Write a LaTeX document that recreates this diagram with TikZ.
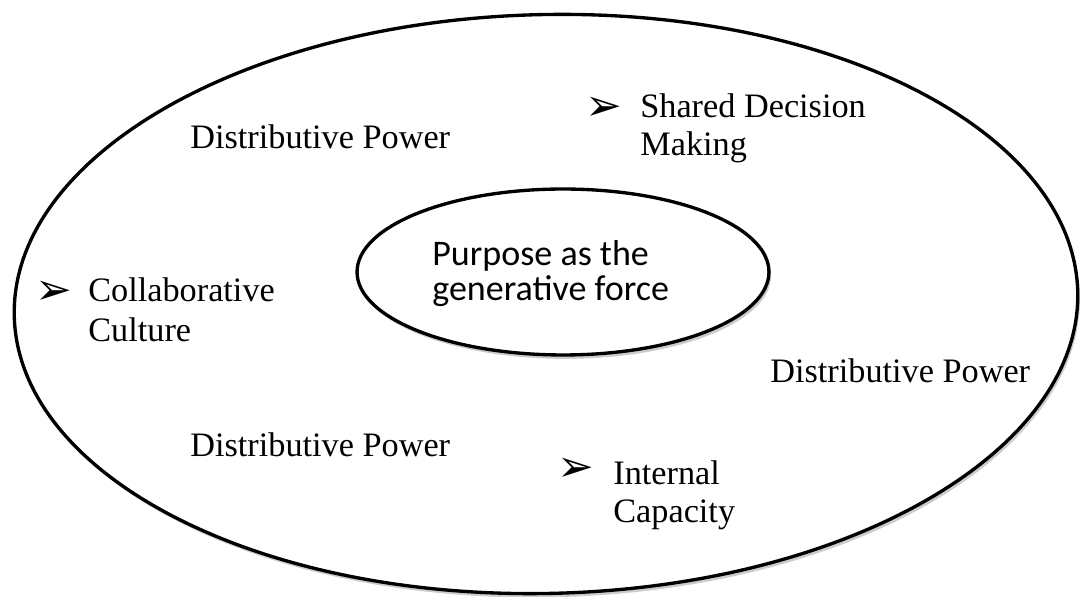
\documentclass[tikz,border=0pt]{standalone}
\usepackage{fontspec}
\setmainfont{Liberation Serif}
\newfontfamily\arrowfont{DejaVu Sans}
\newfontfamily\corefont{Carlito}
\usetikzlibrary{shapes.geometric, shadows}
\tikzset{
	x=0.02cm, y=-0.02cm, % one unit is one pixel, y runs downwards
	ring/.style={ellipse, draw, line width=1.9pt, fill=white, inner sep=0pt,
		drop shadow={shadow xshift=1.2pt, shadow yshift=-2.2pt, fill=black!20, opacity=1}}, % the two ellipses
	words/.style={anchor=base west, inner sep=0pt, font=\fontsize{19.5}{23}\selectfont}, % text in the outer ring
	core words/.style={anchor=base west, inner sep=0pt, font=\corefont\fontsize{20.5}{24}\selectfont}, % text in the centre
	pointer/.style={anchor=base west, inner sep=0pt, font=\arrowfont\fontsize{25}{28}\selectfont}, % the arrow bullets
}
\begin{document}
\begin{tikzpicture}
	\useasboundingbox (0,0) rectangle (1080,597);
	% the rings
	\node[ring, rotate=1.3, minimum width=21.28cm, minimum height=11.58cm] (outer) at (546,304) {};
	\node[ring, minimum width=8.24cm, minimum height=3.32cm] (core) at (563,272) {};
	\node[core words] (purpose) at (432,266) {Purpose as the};
	\node[core words] (force) at (432,301) {generative force};
	% distributive power
	\node[words] (dptop) at (190,149) {Distributive Power};
	\node[words] (dpright) at (770,383) {Distributive Power};
	\node[words] (dpbottom) at (190,457) {Distributive Power};
	% bullets
	\node[pointer] (b1) at (585,121) {➢};
	\node[words] (shared) at (640,118) {Shared Decision};
	\node[words] (making) at (640,156) {Making};
	\node[pointer] (b2) at (35,305) {➢};
	\node[words] (collab) at (88,302) {Collaborative};
	\node[words] (culture) at (88,342) {Culture};
	\node[pointer] (b3) at (557,482) {➢};
	\node[words] (internal) at (613,485) {Internal};
	\node[words] (capacity) at (613,523) {Capacity};
\end{tikzpicture}
\end{document}
